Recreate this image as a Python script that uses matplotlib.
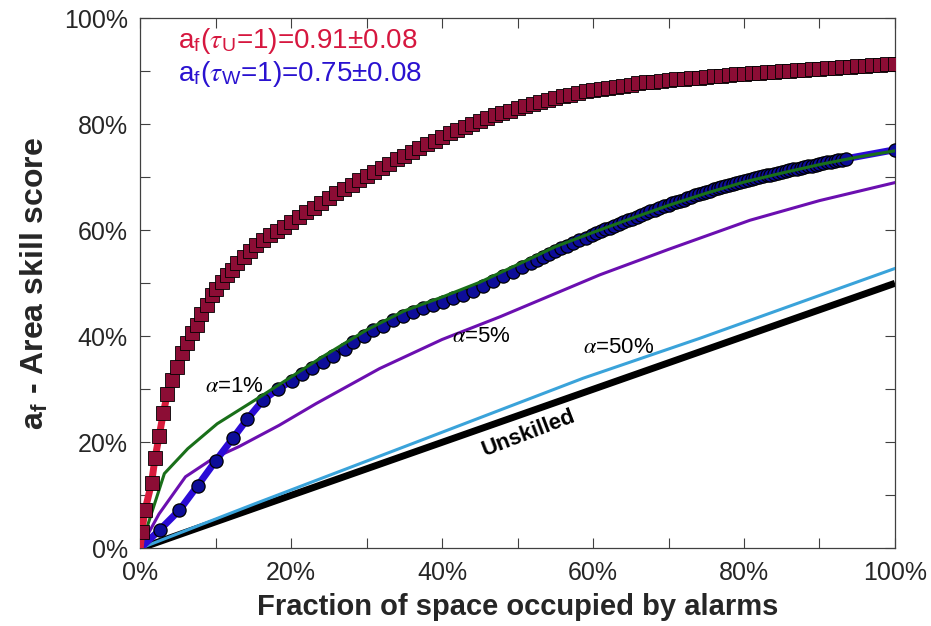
import numpy as np
import matplotlib
matplotlib.use('Agg')
import matplotlib.pyplot as plt

plt.rcParams['font.family'] = ['Liberation Sans', 'DejaVu Sans']
plt.rcParams['mathtext.fontset'] = 'custom'
plt.rcParams['mathtext.rm'] = 'Liberation Sans'
plt.rcParams['mathtext.it'] = 'STIXGeneral:italic'
plt.rcParams['mathtext.bf'] = 'Liberation Sans:bold'

# tau_U curve (squares), first point is line start only
red_x = [0, 0.2, 0.64, 1.5, 1.96, 2.5, 3.06, 3.6, 4.2, 4.83, 5.5, 6.16, 6.8, 7.5, 8.1,
         8.8, 9.5, 10.1, 10.8, 11.5, 12.1, 12.8, 13.7, 14.5, 15.4, 16.3, 17.2, 18.1,
         19, 20, 21, 22, 23, 24, 25, 26, 27, 28, 29, 30, 31, 32, 33, 34, 35, 36, 37,
         38, 39, 40, 41, 42, 43, 44, 45, 46, 47, 48, 49, 50, 51, 52, 53, 54, 55, 56,
         57, 58, 59, 60, 61, 62, 63, 64, 65, 66, 67, 68, 69, 70, 71, 72, 73, 74, 75,
         76, 77, 78, 79, 80, 81, 82, 83, 84, 85, 86, 87, 88, 89, 90, 91, 92, 93, 94,
         95, 96, 97, 98, 99, 100]
red_y = [0, 3.1, 7.2, 12.3, 17.0, 21.1, 25.5, 29.2, 31.8, 34.3, 36.8, 38.7, 40.6, 42.1, 44.3,
         45.9, 47.8, 49.0, 50.3, 51.6, 52.5, 53.8, 55.0, 56.1, 57.2, 58.2, 59.1, 59.9,
         60.7, 61.6, 62.5, 63.4, 64.3, 65.2, 66.1, 67.0, 67.8, 68.6, 69.4, 70.2, 71.0,
         71.8, 72.6, 73.4, 74.1, 74.8, 75.5, 76.2, 76.9, 77.6, 78.3, 78.9, 79.5, 80.1,
         80.7, 81.2, 81.7, 82.2, 82.6, 83.0, 83.4, 83.8, 84.2, 84.6, 85.0, 85.3, 85.6,
         85.9, 86.2, 86.5, 86.7, 86.9, 87.1, 87.3, 87.5, 87.7, 87.9, 88.0, 88.2, 88.3,
         88.5, 88.6, 88.7, 88.8, 89.0, 89.1, 89.2, 89.3, 89.4, 89.5, 89.6, 89.7, 89.8,
         89.9, 90.0, 90.1, 90.2, 90.3, 90.4, 90.5, 90.6, 90.7, 90.8, 90.9, 91.0, 91.0,
         91.1, 91.2, 91.3, 91.4]

# tau_W curve (circles)
blue_x = [0, 2.6, 5.2, 7.6, 10.0, 12.3, 14.2, 16.3, 18.3, 20.1, 21.5, 22.8, 24.2, 25.5,
          27.1, 28.2, 29.6, 30.9, 32.2, 33.5, 34.8, 36.2, 37.5, 38.8, 40.1, 41.5, 42.8,
          44.1, 45.4, 46.8, 48.1, 49.4, 50.6, 51.8, 52.6, 53.4, 54.2, 55.0, 55.8, 56.6,
          57.4, 58.2, 59.0, 59.8, 60.4, 61.0, 61.6, 62.2, 62.8, 63.4, 64.0, 64.6, 65.2,
          65.8, 66.4, 67.0, 67.6, 68.2, 68.8, 69.4, 70.0, 70.5, 71.0, 71.5, 72.0, 72.5,
          73.0, 73.5, 74.0, 74.5, 75.0, 75.5, 76.0, 76.5, 77.0, 77.5, 78.0, 78.5, 79.0,
          79.5, 80.0, 80.5, 81.0, 81.5, 82.0, 82.5, 83.0, 83.5, 84.0, 84.5, 85.0, 85.5,
          86.0, 86.5, 87.0, 87.5, 88.0, 88.5, 89.0, 89.5, 90.0, 90.5, 91.0, 91.5, 92.0,
          92.5, 93.0, 93.5, 100]
blue_y = [0, 3.5, 7.2, 11.8, 16.5, 20.8, 24.4, 28.0, 30.1, 31.6, 32.9, 34.0, 35.1, 36.3,
          37.6, 38.9, 40.1, 41.1, 42.0, 43.0, 43.9, 44.6, 45.3, 45.9, 46.5, 47.2, 47.8,
          48.5, 49.4, 50.4, 51.3, 52.2, 53.0, 53.8, 54.4, 55.0, 55.6, 56.1, 56.6, 57.1,
          57.6, 58.1, 58.6, 59.1, 59.4, 59.8, 60.2, 60.5, 60.9, 61.2, 61.6, 61.9, 62.2,
          62.6, 62.9, 63.2, 63.6, 63.9, 64.2, 64.5, 64.8, 65.1, 65.3, 65.6, 65.8, 66.1,
          66.3, 66.6, 66.8, 67.0, 67.3, 67.5, 67.7, 67.9, 68.1, 68.3, 68.5, 68.7, 68.9,
          69.1, 69.3, 69.5, 69.7, 69.8, 70.0, 70.2, 70.4, 70.5, 70.7, 70.9, 71.0, 71.2,
          71.3, 71.5, 71.6, 71.8, 71.9, 72.1, 72.2, 72.4, 72.5, 72.7, 72.8, 72.9, 73.1,
          73.2, 73.3, 73.5, 75.2]

# alpha = 1% line
green_x = [0, 3.2, 6.3, 10.2, 15.8, 19.3, 24, 30, 35, 40, 45, 51.6, 55, 60, 65, 70, 75,
           80, 85, 90, 95, 100]
green_y = [0, 14.1, 18.8, 23.5, 28.5, 31.7, 36.0, 41.2, 44.8, 47.4, 50.2, 54.6, 56.9,
           59.6, 62.2, 64.7, 67.0, 69.1, 70.8, 72.4, 73.8, 75.0]

# alpha = 5% line
purple_x = [0, 2.5, 6.0, 9.6, 13.1, 18.4, 23.3, 31.7, 40, 47.7, 60.9, 70, 80.8, 90, 100]
purple_y = [0, 6.5, 13.5, 16.9, 19.2, 23.2, 27.3, 33.9, 39.4, 43.7, 51.6, 56.4, 61.9,
            65.6, 69.0]

# alpha = 50% line
cyan_x = [0, 15, 34.5, 58.7, 74.1, 100]
cyan_y = [0, 8.3, 18.9, 32.1, 39.6, 52.8]

# unskilled
unsk_x = [0, 100]
unsk_y = [0, 50]

tick_vals = [0, 20, 40, 60, 80, 100]
tick_labels = ['0%', '20%', '40%', '60%', '80%', '100%']
minor_vals = [10, 30, 50, 70, 90]

fig = plt.figure(figsize=(9.31, 6.26), dpi=100)
ax = fig.add_axes([0.1506, 0.1241, 0.8107, 0.8467])

ax.plot(unsk_x, unsk_y, color='black', lw=5, solid_capstyle='butt', zorder=2)
ax.plot(cyan_x, cyan_y, color='#3aa3da', lw=2.2, zorder=3)
ax.plot(purple_x, purple_y, color='#6b0fb0', lw=2.2, zorder=3)
ax.plot(blue_x, blue_y, color='#2b0bd6', lw=5, marker='o', ms=9.5,
        mfc='#0d0d99', mec='black', mew=0.9, markevery=slice(1, None), zorder=4)
ax.plot(green_x, green_y, color='#196f19', lw=2.2, zorder=5)
ax.plot(red_x, red_y, color='#d81b3c', lw=5, marker='s', ms=9.5,
        mfc='#8c0d35', mec='black', mew=0.6, markevery=slice(1, None), zorder=6)

ax.text(5.0, 94.4, r'a$_\mathrm{f}$($\tau_\mathrm{U}$=1)=0.91±0.08',
        color='#d6173f', fontsize=20, va='baseline', ha='left')
ax.text(5.0, 88.2, r'a$_\mathrm{f}$($\tau_\mathrm{W}$=1)=0.75±0.08',
        color='#2a12d0', fontsize=20, va='baseline', ha='left')

ax.text(12.5, 30.5, r'$\alpha$=1%', fontsize=16, ha='center', va='center')
ax.text(45.2, 40.0, r'$\alpha$=5%', fontsize=16, ha='center', va='center')
ax.text(63.4, 37.9, r'$\alpha$=50%', fontsize=16, ha='center', va='center')
ax.text(51.4, 21.7, 'Unskilled', fontsize=16, fontweight='bold', rotation=21,
        ha='center', va='center', rotation_mode='anchor')

ax.set_xlim(0, 100)
ax.set_ylim(0, 100)
ax.set_xticks(tick_vals)
ax.set_xticklabels(tick_labels)
ax.set_yticks(tick_vals)
ax.set_yticklabels(tick_labels)
ax.set_xticks(minor_vals, minor=True)
ax.set_yticks(minor_vals, minor=True)
ax.tick_params(which='both', direction='in', length=7, width=0.8, color='#404040',
               top=True, right=True, labelsize=18, labelcolor='#262626')
ax.tick_params(axis='x', pad=9)
ax.tick_params(axis='y', pad=9)
for s in ax.spines.values():
    s.set_color('#404040')
    s.set_linewidth(0.9)

ax.set_xlabel('Fraction of space occupied by alarms', fontsize=21, fontweight='bold',
              color='#262626', labelpad=6)
ax.set_ylabel(r'$\mathbf{a}_\mathbf{f}$ - Area skill score', fontsize=23,
              fontweight='bold', color='#262626', labelpad=9)

fig.savefig('out.png', dpi=100)
